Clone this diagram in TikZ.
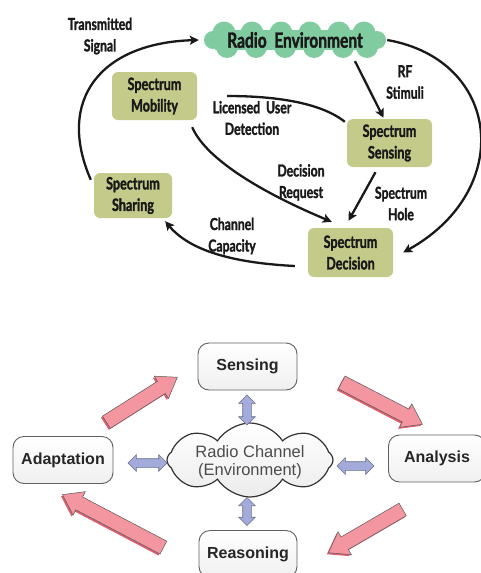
\documentclass[tikz,border=0pt]{standalone}
\usepackage{fontspec}
\setmainfont{Liberation Sans}
\newfontfamily\condfont{Lato}[FakeStretch=0.74,FakeBold=1.6]
\usetikzlibrary{shapes.symbols,shapes.arrows,arrows.meta,shadows,calc}
\definecolor{olive}{RGB}{196,203,138}
\definecolor{mint}{RGB}{128,204,160}
\definecolor{pinkarr}{RGB}{243,150,160}
\definecolor{pinkdark}{RGB}{222,95,110}
\definecolor{lav}{RGB}{163,171,219}
\definecolor{lavline}{RGB}{105,112,140}
\definecolor{ink}{RGB}{25,25,25}
\tikzset{
  sbox/.style={rounded corners=6pt, fill=olive, minimum width=85pt, minimum height=48pt, inner sep=0pt, align=center, font=\condfont\bfseries\fontsize{17}{21.5}\selectfont, text=ink},
  lbl/.style={align=center, font=\condfont\bfseries\fontsize{16.5}{21.5}\selectfont, text=ink},
  arr/.style={line width=2.3pt, draw=ink, -{Stealth[length=9pt,width=9pt,inset=2pt]}},
  plainline/.style={line width=2.3pt, draw=ink},
  wbox/.style={draw=gray!75!black, line width=0.9pt, rounded corners=11pt, top color=white, bottom color=gray!12, minimum width=99pt, minimum height=47pt, font=\bfseries\fontsize{16}{19}\selectfont, text=black!85},
  parrow/.style={single arrow, draw=gray!70!black, line width=0.5pt, fill=pinkarr, inner xsep=0pt, inner ysep=7pt, single arrow head extend=6pt, single arrow tip angle=70, general shadow={fill=pinkdark, shadow xshift=-1.5pt, shadow yshift=-1.5pt}},
  darrow/.style={double arrow, draw=lavline, line width=0.6pt, fill=lav, inner xsep=0pt, inner ysep=4pt, double arrow head extend=4pt}
}
\begin{document}
\begin{tikzpicture}[x=1pt,y=-1pt]
\useasboundingbox (0,0) rectangle (481,573);
% ---------- top diagram ----------
% cloud outline (filled puffs)
\fill[mint] (215,30) rectangle (375,50);
\foreach \cx in {224,252,281,310,339,364} \fill[mint] (\cx,33) circle[radius=11.5pt];
\foreach \cx in {227,256,285,314,343,367} \fill[mint] (\cx,47) circle[radius=11pt];
\fill[mint] (213,40) circle[radius=9pt];
\fill[mint] (377,40) circle[radius=9pt];
\node[minimum width=182pt, minimum height=38pt, inner sep=0pt, font=\condfont\bfseries\fontsize{21}{24}\selectfont, text=ink] (env) at (295,40) {Radio\ \ Environment};
\node[sbox] (mob) at (154.5,96) {Spectrum\\Mobility};
\node[sbox] (sens) at (389.5,143) {Spectrum\\Sensing};
\node[sbox, minimum width=78pt, minimum height=45pt] (shar) at (133,195.5) {Spectrum\\Sharing};
\node[sbox, minimum height=49pt] (dec) at (350.5,252.5) {Spectrum\\Decision};

\node[lbl] (l1) at (100,36) {Transmitted\\Signal};
\node[lbl] (l2) at (405,82) {RF\\Stimuli};
\node[lbl] (l3) at (252,118) {Licensed\ \ User\\Detection};
\node[lbl] (l4) at (301,182.5) {Decision\\Request};
\node[lbl] (l5) at (401,203.5) {Spectrum\\Hole};
\node[lbl] (l6) at (232,236) {Channel\\Capacity};

\draw[arr] ([shift={(-3,7)}]shar.north west) .. controls +(-35,-80) and +(-98,3) .. ([xshift=-5pt]env.west);
\draw[arr] ([xshift=60pt,yshift=-2pt]env.south) -- ([xshift=-6pt,yshift=1pt]sens.north);
\draw[arr] ([xshift=1pt]env.east) .. controls +(114,20) and +(112,-62.5) .. ([xshift=10pt]dec.east);
\draw[plainline] ([shift={(-2,3)}]sens.north west) .. controls +(-25,-20) and +(45,0) .. ([xshift=30pt]mob.east);
\draw[arr] ([shift={(-5,7)}]mob.south east) .. controls +(15,35) and +(-60,-25) .. ([shift={(24,-6)}]dec.north west);
\draw[arr] ([shift={(-14,5)}]sens.south) -- ([shift={(-2,-7)}]dec.north);
\draw[arr] ([shift={(-13,13.5)}]dec.west) .. controls +(-60,-3) and +(25,30) .. ([shift={(-7,3)}]shar.south east);

% ---------- bottom diagram ----------
\node[cloud, cloud puffs=8, cloud puff arc=115, aspect=2.2, draw=black!80, line width=1.2pt, top color=white, bottom color=gray!15, minimum width=166pt, minimum height=74pt, inner sep=0pt] (bcloud) at (250,460) {};
\node[font=\fontsize{16.5}{18.5}\selectfont, text=black!70, align=center] (bct) at (250,462) {Radio Channel\\(Environment)};

\node[wbox] (bsens) at (247.5,366.5) {Sensing};
\node[wbox, minimum width=100pt] (badapt) at (63,460) {Adaptation};
\node[wbox, minimum width=97pt] (banal) at (437,458.5) {Analysis};
\node[wbox, minimum width=98pt] (breas) at (248,554) {Reasoning};

\node[darrow, rotate=90, minimum height=30pt] (d1) at (247,410) {};
\node[darrow, rotate=90, minimum height=28pt] (d2) at (247,511.5) {};
\node[darrow, minimum height=39pt] (d3) at (147.5,463) {};
\node[darrow, minimum height=37pt] (d4) at (355.5,466) {};

\node[parrow, rotate=32.4, minimum height=84pt] (p1) at (137.5,402.5) {};
\node[parrow, rotate=-27.4, minimum height=91pt] (p2) at (377.5,401) {};
\node[parrow, rotate=210.2, minimum height=86pt] (p3) at (370,528.5) {};
\node[parrow, rotate=152.3, minimum height=114pt] (p4) at (117.5,523.5) {};
\end{tikzpicture}
\end{document}
